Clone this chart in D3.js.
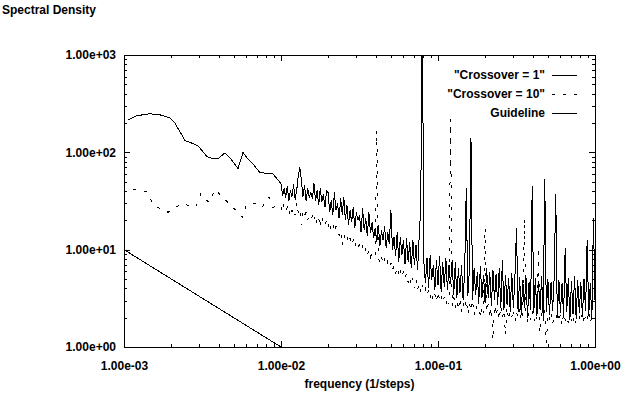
<html>
<head>
<meta charset="utf-8">
<script src="https://d3js.org/d3.v7.min.js"></script>
<style>
body { margin: 0; background: #fff; }
svg text { font-family: 'Liberation Sans', Arial, sans-serif; font-weight: bold; font-size: 12px; fill: #000; }
</style>
</head>
<body>
<svg width="626" height="394"></svg>
<script>
// "Crossover = 1": low frequencies read point by point
var lowFreq1 = [1.06e-3, 1.21e-3, 1.46e-3, 1.69e-3, 1.96e-3, 2.11e-3, 2.45e-3, 2.75e-3, 2.96e-3, 3.38e-3,
  3.69e-3, 3.97e-3, 4.40e-3, 4.73e-3, 5.32e-3, 5.73e-3, 6.07e-3, 6.53e-3, 7.35e-3, 8.89e-3, 9.86e-3];
var lowVals1 = [216, 238, 249, 243, 226, 200, 132, 123, 117, 90, 86, 86, 99, 88, 68, 100, 88, 78, 62, 60, 49];

// dense part: one reading every 0.01 decade, from f = 0.01 to f = 1
var denseStart = 0.01, denseStep = 0.01;
var denseVals1 = [
  47.8, 36.0, 42.5, 34.4, 44.6, 32.0, 40.6, 35.2, 46.7, 32.8,
  40.6, 57.7, 69.7, 51.3, 35.2, 45.6, 32.0, 42.5, 34.4, 38.7,
  33.6, 47.8, 32.0, 40.6, 28.5, 42.5, 30.6, 36.9, 27.2, 40.6,
  38.7, 24.2, 32.0, 22.5, 38.7, 25.3, 29.8, 21.0, 33.6, 23.0,
  34.4, 20.0, 28.5, 17.8, 25.3, 19.1, 27.2, 16.6, 24.2, 20.0,
  22.5, 15.1, 26.5, 15.8, 21.0, 13.7, 24.2, 14.7, 19.1, 13.1,
  16.6, 11.9, 17.8, 10.8, 15.8, 12.5, 17.4, 10.3, 15.1, 11.35,
  25.3, 9.9, 13.4, 8.6, 15.1, 7.4, 13.4, 8.8, 12.5, 7.1,
  13.1, 7.4, 11.9, 6.45, 12.5, 6.9, 11.1, 6.15, 13.4, 27.2,
  3000, 7.4, 4.5, 8.2, 4.0, 8.8, 4.9, 6.9, 3.84, 7.8,
  4.3, 8.6, 3.7, 7.4, 4.1, 8.2, 3.84, 6.9, 4.4, 7.8,
  3.4, 7.4, 3.18, 6.45, 3.6, 6.9, 3.03, 6.15, 42.5, 3.33,
  6.15, 141, 3.03, 6.45, 3.4, 5.85, 2.9, 6.8, 3.18, 5.5,
  2.83, 6.45, 3.18, 5.85, 2.64, 6.15, 3.03, 5.6, 2.7, 6.45,
  2.51, 7.8, 2.4, 5.5, 2.7, 5.1, 2.29, 5.7, 2.51, 5.3,
  16.6, 2.29, 5.2, 2.13, 4.9, 2.51, 5.5, 1.99, 4.6, 2.4,
  44.6, 2.23, 5.1, 2.08, 4.75, 2.4, 5.3, 1.99, 53.8, 2.29,
  5.0, 2.13, 4.6, 2.34, 5.2, 36.9, 1.99, 4.9, 2.23, 4.5,
  2.08, 10.3, 2.29, 5.1, 1.89, 4.75, 2.18, 5.3, 1.94, 4.9,
  2.23, 4.6, 2.03, 5.0, 2.34, 12.5, 2.08, 4.5, 1.89, 21.0,
  3.03];

// "Crossover = 10"
var lowFreq10 = [1.14e-3, 1.38e-3, 1.55e-3, 1.91e-3, 2.34e-3, 2.87e-3, 3.09e-3, 3.28e-3, 3.48e-3,
  3.80e-3, 4.27e-3, 4.94e-3, 5.65e-3, 6.07e-3, 7.03e-3, 7.57e-3, 8.39e-3, 8.77e-3];
var lowVals10 = [41.5, 39.6, 28.5, 24.2, 29.8, 27.2, 37.8, 33.6, 30.6, 41.5, 34.4, 27.2, 21.5, 29.8, 29.8, 27.2, 34.4, 27.2];
var denseVals10 = [
  28.5, 24.2, 29.8, 25.3, 27.2, 23.0, 27.8, 24.7, 26.5, 22.5,
  30.6, 24.2, 26.5, 17.8, 25.3, 22.5, 24.2, 20.0, 23.0, 21.0,
  22.0, 19.1, 23.0, 18.2, 21.0, 16.9, 22.0, 19.1, 17.4, 20.0,
  16.9, 19.5, 15.8, 18.2, 15.1, 17.4, 16.2, 14.0, 15.8, 11.1,
  14.4, 12.5, 13.7, 11.6, 13.1, 11.1, 12.5, 10.6, 11.9, 10.3,
  11.35, 9.9, 10.8, 9.2, 10.3, 8.8, 9.9, 8.4, 9.4, 8.6,
  9.0, 167, 8.2, 7.4, 8.6, 7.1, 8.0, 6.8, 7.6, 6.6,
  7.3, 6.15, 6.9, 5.7, 6.6, 5.5, 6.3, 5.2, 6.0, 5.1,
  5.7, 4.6, 5.3, 4.3, 5.1, 4.0, 4.9, 3.84, 4.5, 3.6,
  4.3, 3.7, 4.0, 3.33, 3.84, 3.18, 3.7, 3.03, 3.5, 2.9,
  3.7, 3.03, 3.4, 2.83, 3.26, 2.7, 3.18, 2.76, 221, 2.64,
  3.33, 2.51, 3.03, 2.4, 3.18, 2.29, 2.9, 2.45, 3.1, 2.18,
  2.83, 2.34, 3.03, 2.13, 2.7, 2.4, 2.9, 2.03, 2.64, 2.23,
  16.6, 2.29, 2.76, 1.99, 2.57, 1.18, 2.7, 2.08, 2.51, 1.89,
  2.64, 1.99, 2.4, 1.33, 2.57, 1.89, 2.34, 2.03, 2.45, 1.81,
  2.29, 1.99, 2.51, 1.85, 2.23, 21.0, 2.4, 1.77, 2.29, 1.89,
  2.34, 1.81, 2.18, 1.94, 10.6, 1.40, 2.23, 1.85, 2.4, 1.10,
  2.13, 1.89, 2.29, 1.72, 2.08, 1.94, 2.34, 1.81, 2.18, 1.68,
  2.23, 1.89, 2.08, 1.77, 2.34, 1.85, 2.13, 1.64, 2.23, 1.89,
  2.08, 1.81, 2.29, 1.72, 2.13, 1.89, 2.34, 1.77, 2.03, 1.85,
  1.99];

// Guideline ~ 1/f
var guideFreq = [0.001, 0.01];
var guideVals = [10, 1];

var xTicks = [0.001, 0.01, 0.1, 1];
var yTicks = [1, 10, 100, 1000];
var seriesNames = ['"Crossover = 1"', '"Crossover = 10"', 'Guideline'];

var svg = d3.select("svg");
var pLeft = 124, pRight = 595, pTop = 55, pBottom = 347;

var x = d3.scaleLog().domain([1e-3, 1]).range([pLeft, pRight]);
var y = d3.scaleLog().domain([1, 1000]).range([pBottom, pTop]);

function fmt(d) {
  var e = Math.round(Math.log10(d));
  return "1.00e" + (e < 0 ? "-" : "+") + (Math.abs(e) < 10 ? "0" : "") + Math.abs(e);
}

function toPoints(lowF, lowV, denseV) {
  var pts = lowF.map(function(f, i) { return [f, lowV[i]]; });
  denseV.forEach(function(v, i) {
    pts.push([denseStart * Math.pow(10, i * denseStep), v]);
  });
  return pts;
}

var s1 = toPoints(lowFreq1, lowVals1, denseVals1);
var s10 = toPoints(lowFreq10, lowVals10, denseVals10);
var guide = guideFreq.map(function(f, i) { return [f, guideVals[i]]; });

svg.append("clipPath").attr("id", "plot")
  .append("rect").attr("x", pLeft).attr("y", pTop).attr("width", pRight - pLeft).attr("height", pBottom - pTop);

var line = d3.line().x(function(d) { return x(d[0]); }).y(function(d) { return y(d[1]); });

var plot = svg.append("g").attr("clip-path", "url(#plot)");
plot.append("path").datum(s10).attr("d", line)
  .style("fill", "none").style("stroke", "#000").style("stroke-width", 1)
  .style("stroke-dasharray", "3,8").attr("shape-rendering", "crispEdges");
plot.append("path").datum(s1).attr("d", line)
  .style("fill", "none").style("stroke", "#000").style("stroke-width", 1)
  .attr("shape-rendering", "crispEdges");
plot.append("path").datum(guide).attr("d", line)
  .style("fill", "none").style("stroke", "#000").style("stroke-width", 1)
  .attr("shape-rendering", "crispEdges");

// axes: gnuplot style, ticks inside on all four sides
var minorX = x.ticks().filter(function(d) { return xTicks.indexOf(d) < 0; });
var minorY = y.ticks().filter(function(d) { return yTicks.indexOf(d) < 0; });

function addAxis(axis, tx, ty) {
  var g = svg.append("g").attr("transform", "translate(" + tx + "," + ty + ")").call(axis);
  g.select(".domain").remove();
  g.selectAll("line").attr("shape-rendering", "crispEdges");
  g.selectAll("text").attr("font-size", null).attr("font-family", null);
  return g;
}

addAxis(d3.axisBottom(x).tickValues(xTicks).tickSize(-6).tickPadding(14).tickFormat(fmt), 0, pBottom);
addAxis(d3.axisBottom(x).tickValues(minorX).tickSize(-3).tickFormat(""), 0, pBottom);
addAxis(d3.axisTop(x).tickValues(xTicks).tickSize(-6).tickFormat(""), 0, pTop);
addAxis(d3.axisTop(x).tickValues(minorX).tickSize(-3).tickFormat(""), 0, pTop);
addAxis(d3.axisLeft(y).tickValues(yTicks).tickSize(-6).tickPadding(8).tickFormat(fmt), pLeft, 0);
addAxis(d3.axisLeft(y).tickValues(minorY).tickSize(-3).tickFormat(""), pLeft, 0);
addAxis(d3.axisRight(y).tickValues(yTicks).tickSize(-6).tickFormat(""), pRight, 0);
addAxis(d3.axisRight(y).tickValues(minorY).tickSize(-3).tickFormat(""), pRight, 0);

svg.append("rect").attr("x", pLeft).attr("y", pTop).attr("width", pRight - pLeft).attr("height", pBottom - pTop)
  .style("fill", "none").style("stroke", "#000").attr("shape-rendering", "crispEdges");

svg.append("text").attr("x", 2).attr("y", 14).text("Spectral Density");
svg.append("text").attr("x", (pLeft + pRight) / 2).attr("y", 388).attr("text-anchor", "middle").text("frequency (1/steps)");

// key
var keyY = [75, 94, 113];
var keyDash = [null, "3,8", null];
seriesNames.forEach(function(name, i) {
  svg.append("text").attr("x", 545).attr("y", keyY[i]).attr("dy", "0.35em")
    .attr("text-anchor", "end").text(name);
  svg.append("line").attr("x1", 552).attr("x2", 577).attr("y1", keyY[i]).attr("y2", keyY[i])
    .style("stroke", "#000").style("stroke-dasharray", keyDash[i]).attr("shape-rendering", "crispEdges");
});
</script>
</body>
</html>
